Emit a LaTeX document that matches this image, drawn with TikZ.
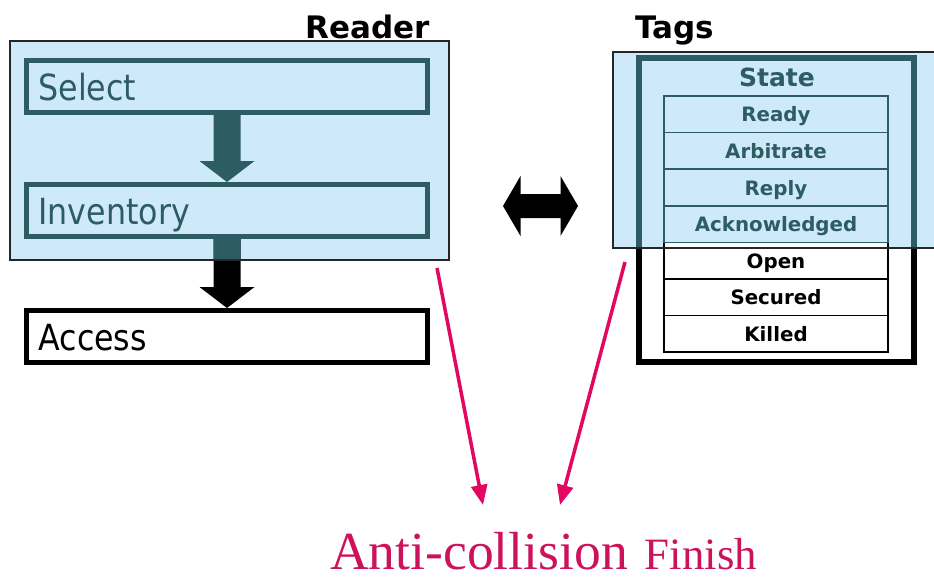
\documentclass[tikz,border=0pt]{standalone}
\usepackage{fontspec}
\setmainfont{DejaVu Sans}
\newfontfamily\narrowsans{DejaVu Sans}[FakeStretch=0.88]
\newfontfamily\serifface{Liberation Serif}
\usetikzlibrary{calc,arrows.meta}
\definecolor{lightblue}{RGB}{205,233,250}
\definecolor{tealc}{RGB}{45,92,98}
\definecolor{pinkc}{RGB}{226,8,98}
\definecolor{pinktext}{RGB}{205,18,92}
\newcommand\blkarrow[3]{%
  \fill[#3] ($(#1.south)+(-13.5,0)$) -- ($(#2.north)+(-13.5,-21)$) -- ($(#2.north)+(-27.5,-21)$)
    -- (#2.north) -- ($(#2.north)+(27.5,-21)$) -- ($(#2.north)+(13.5,-21)$)
    -- ($(#1.south)+(13.5,0)$) -- cycle;}
\begin{document}
\begin{tikzpicture}[x=1pt,y=-1pt,
  bgrect/.style={fill=lightblue, inner sep=0pt, outer sep=0pt},
  box/.style={draw, line width=5pt, minimum width=401pt, minimum height=52pt,
    text width=377pt, inner xsep=12pt, inner ysep=0pt, align=left,
    text height=30pt, text depth=3pt, font=\narrowsans\fontsize{36}{40}\selectfont},
  cell/.style={draw, line width=1.6pt, minimum width=224pt, minimum height=36.6pt,
    inner sep=0pt, text height=19pt, text depth=4pt,
    font=\bfseries\fontsize{19.8}{22}\selectfont},
  title/.style={inner sep=0pt, font=\bfseries\fontsize{31}{34}\selectfont},
  pinkarrow/.style={pinkc, line width=3.5pt, -{Triangle[length=20pt,width=16pt]}}]
\useasboundingbox (0,0) rectangle (934,579);

% light blue backgrounds
\node[bgrect, minimum width=439pt, minimum height=219pt] (rdr) at (229.5,150.5) {};
\node[bgrect, minimum width=327pt, minimum height=196pt] (tg) at (776.5,150) {};

% titles
\node[title, anchor=base east] (readerlbl) at (430,38) {Reader};
\node[title, anchor=base west] (tagslbl) at (635,38) {Tags};

% reader boxes
\node[box, draw=tealc, text=tealc] (sel) at (227,86.5) {Select};
\node[box, draw=tealc, text=tealc] (inv) at (227,210.5) {Inventory};
\node[box, draw=black, text=black] (acc) at (227,336.5) {Access};
\blkarrow{sel}{inv}{tealc}
\blkarrow{inv}{acc}{black}
\begin{scope}
  \clip (rdr.north west) rectangle (rdr.south east);
  \blkarrow{inv}{acc}{tealc}
\end{scope}

% tags
\node[draw, line width=6pt, minimum width=275pt, minimum height=304pt,
      inner sep=0pt, outer sep=0pt] (tagbox) at (776.5,210) {};
\begin{scope}
  \clip (tg.north west) rectangle (tg.south east);
  \draw[tealc, line width=6pt] (tagbox.north west) rectangle (tagbox.south east);
\end{scope}
\node[inner sep=0pt, text=tealc, font=\bfseries\fontsize{25}{28}\selectfont] (state) at (777,77.5) {State};
\node[cell, fill=white] (open) at (776,260.7) {Open};
\node[cell, fill=white] (sec) at (776,297.3) {Secured};
\node[cell, fill=white] (kil) at (776,333.9) {Killed};
\node[cell, draw=tealc, text=tealc] (ready) at (776,114.3) {Ready};
\node[cell, draw=tealc, text=tealc] (arb) at (776,150.9) {Arbitrate};
\node[cell, draw=tealc, text=tealc] (rep) at (776,187.5) {Reply};
\node[cell, draw=tealc, text=tealc] (ack) at (776,224.1) {Acknowledged};

% borders of blue areas
\draw[line width=1.2pt, black!85] (rdr.north west) rectangle (rdr.south east);
\draw[line width=1.2pt, black!85] (tg.south east) -- (tg.south west) -- (tg.north west) -- (tg.north east);

% double arrow
\coordinate (dbl) at (540.5,206);
\fill (dbl) ++(-37.5,0) -- ++(17.5,-30) -- ++(0,18) -- ++(40,0) -- ++(0,-18)
  -- ++(17.5,30) -- ++(-17.5,30) -- ++(0,-18) -- ++(-40,0) -- ++(0,18) -- cycle;

% bottom text and pink arrows
\node[anchor=base west, inner sep=0pt, text=pinktext] (anti) at (330,569)
  {{\serifface\fontsize{53.6}{60}\selectfont Anti-collision}\hspace{17pt}{\serifface\fontsize{44.8}{50}\selectfont Finish}};
\coordinate (p1s) at (437,268);
\coordinate (p1e) at (483,505);
\coordinate (p2s) at (625,262);
\coordinate (p2e) at (560,505);
\draw[pinkarrow] (p1s) -- (p1e);
\draw[pinkarrow] (p2s) -- (p2e);
\end{tikzpicture}
\end{document}
